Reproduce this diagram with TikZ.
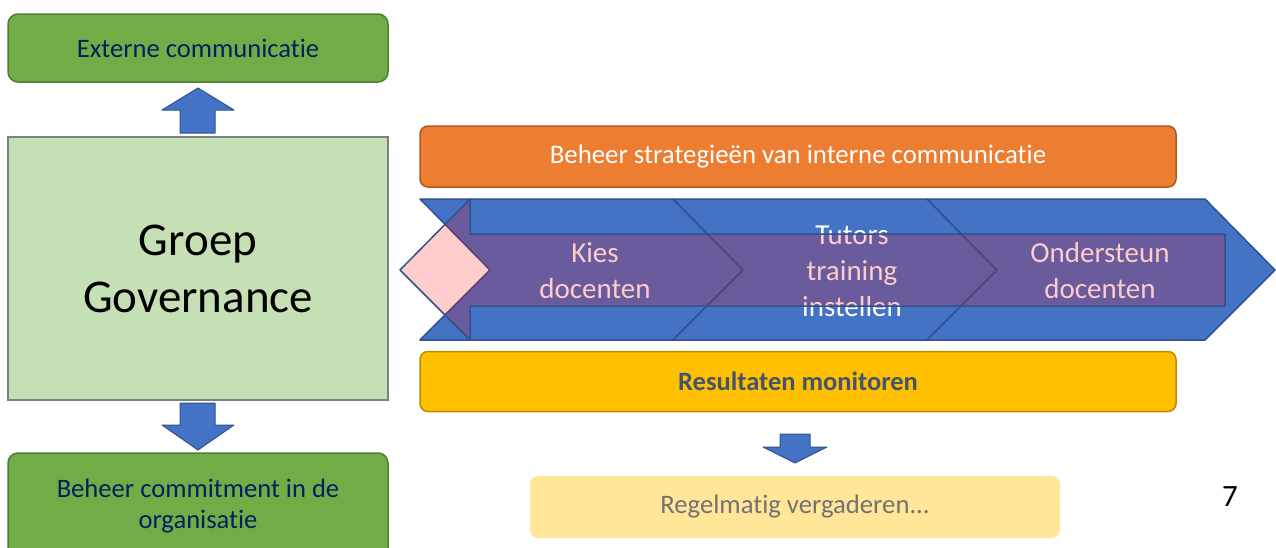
\documentclass[tikz,border=0pt]{standalone}
\usepackage{fontspec}
\setmainfont{Carlito}[Ligatures=NoCommon]
\usetikzlibrary{positioning}
\definecolor{leafgreen}{HTML}{70AD47}
\definecolor{leafedge}{HTML}{507E32}
\definecolor{navytext}{HTML}{002060}
\definecolor{govfill}{HTML}{C5E0B4}
\definecolor{govedge}{HTML}{7F7F7F}
\definecolor{orangefill}{HTML}{ED7D31}
\definecolor{orangeedge}{HTML}{AE5A21}
\definecolor{goldfill}{HTML}{FFC000}
\definecolor{goldedge}{HTML}{BC8C00}
\definecolor{slate}{HTML}{44546A}
\definecolor{palegold}{HTML}{FFE699}
\definecolor{greytext}{HTML}{767171}
\definecolor{stepblue}{HTML}{4472C4}
\definecolor{stepedge}{HTML}{2F528F}

\begin{document}
\begin{tikzpicture}[x=1pt, y=-1pt,
    greenbox/.style={draw=leafedge, fill=leafgreen, rounded corners=10pt, line width=1.5pt, minimum width=380pt, align=center, text=navytext, font=\fontsize{26.6}{31}\selectfont},
    bar/.style={rounded corners=8pt, line width=1.5pt, minimum width=756pt, align=center, font=\fontsize{26.8}{31}\selectfont},
    blockarrow/.style={fill=stepblue, draw=stepedge, line width=1pt, line join=round},
    chevron/.style={fill=stepblue, draw=stepedge, line width=1.5pt, line join=round},
    steptext/.style={align=center, text=white, font=\fontsize{29}{36}\selectfont},
    backflow/.style={fill=red, fill opacity=0.2, draw=stepedge, line width=1.5pt, line join=round},
]
\useasboundingbox (0,0) rectangle (1276,547);

% left column
\node[greenbox, minimum height=68pt] (extern) at (198,48) {Externe communicatie};
\node[draw=govedge, fill=govfill, line width=1.5pt, minimum width=380pt, minimum height=263pt, align=center, font=\fontsize{47}{57}\selectfont] (groep) at (198,268.5) {Groep\\Governance};
\node[greenbox, minimum height=107pt] (commit) at (198,506.5) {Beheer commitment in de\\organisatie};

\draw[blockarrow] (198,88) -- (234,110) -- (215,110) -- (215,133) -- (180,133) -- (180,110) -- (162,110) -- cycle;
\draw[blockarrow] (180,403) -- (215,403) -- (215,425) -- (234,425) -- (198,450) -- (162,425) -- (180,425) -- cycle;

% bars around the process
\node[bar, draw=orangeedge, fill=orangefill, text=white, minimum height=61pt] (strat) at (798,156.5) {Beheer strategieën van interne communicatie};
\node[bar, draw=goldedge, fill=goldfill, text=slate, minimum height=60pt, font=\fontsize{26.5}{31}\selectfont\bfseries] (monitor) at (798,381.5) {Resultaten monitoren};

% process steps
\draw[chevron] (420,199) -- (673,199) -- (743,270) -- (673,340) -- (420,340) -- (490,270) -- cycle;
\node[steptext] (kies) at (595,271) {Kies\\docenten};
\draw[chevron] (673,199) -- (927,199) -- (997,270) -- (927,340) -- (673,340) -- (743,270) -- cycle;
\node[steptext] (tutors) at (852,271) {Tutors\\training\\instellen};
\draw[chevron] (927,199) -- (1205,199) -- (1275,270) -- (1205,340) -- (927,340) -- (997,270) -- cycle;
\node[steptext] (steun) at (1100,271) {Ondersteun\\docenten};

% feedback arrow over the steps
\draw[backflow] (400,270) -- (470,199) -- (470,234) -- (1225,234) -- (1225,306) -- (470,306) -- (470,340) -- cycle;

\draw[blockarrow] (780,434) -- (810,434) -- (810,447) -- (827,447) -- (795,463) -- (763,447) -- (780,447) -- cycle;
\node[fill=palegold, rounded corners=8pt, minimum width=530pt, minimum height=62pt, text=greytext, font=\fontsize{26.7}{31}\selectfont] (meet) at (795,507) {Regelmatig vergaderen...};

\node[font=\fontsize{31}{36}\selectfont] (page) at (1230,497) {7};
\end{tikzpicture}
\end{document}
